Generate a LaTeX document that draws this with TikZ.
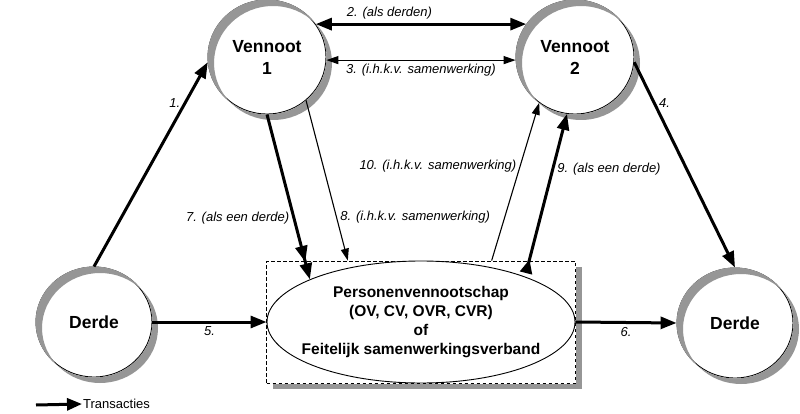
\documentclass[tikz,border=0pt]{standalone}
\usepackage{fontspec}
\setmainfont{Liberation Sans}
\usepackage{tikz}
\usetikzlibrary{arrows.meta,shapes.geometric}
\definecolor{shadowgray}{RGB}{150,150,150}

\begin{document}
\begin{tikzpicture}[x=1pt, y=-1pt,
  bigtip/.tip={Triangle[length=16pt,width=12pt]},
  smalltip/.tip={Triangle[length=12pt,width=8pt]},
  party/.style={ellipse, draw, fill=white, line width=0.9pt, inner sep=0pt, align=center,
    font=\fontsize{17.5}{22}\selectfont\bfseries},
  castshadow/.style={fill=shadowgray, even odd rule},
  tag/.style={font=\fontsize{13}{15}\selectfont\itshape},
  transfer/.style={line width=3pt, -bigtip},
  link/.style={line width=1.1pt, -smalltip}]
\useasboundingbox (0,0) rectangle (800,414);

% vennoten en derden
\node[party, minimum width=118pt, minimum height=114pt] (v1) at (267,57) {Vennoot\\1};
\node[party, minimum width=118pt, minimum height=114pt] (v2) at (575,57) {Vennoot\\2};
\node[party, minimum width=116pt, minimum height=110pt] (dl) at (94,322) {Derde};
\node[party, minimum width=116pt, minimum height=110pt] (dr) at (735,323) {Derde};

% personenvennootschap
\node[draw, fill=white, dash pattern=on 3.5pt off 2.5pt, line width=0.8pt, inner sep=0pt,
  minimum width=309pt, minimum height=122pt] (box) at (421,322) {};

% schaduwen (alleen de rand die buiten de vorm valt)
\fill[castshadow] (273,63) ellipse [x radius=59, y radius=57] (267,57) ellipse [x radius=59.5, y radius=57.5];
\fill[castshadow] (581,63) ellipse [x radius=59, y radius=57] (575,57) ellipse [x radius=59.5, y radius=57.5];
\fill[castshadow] (100,328) ellipse [x radius=58, y radius=55] (94,322) ellipse [x radius=58.5, y radius=55.5];
\fill[castshadow] (741,329) ellipse [x radius=58, y radius=55] (735,323) ellipse [x radius=58.5, y radius=55.5];
\fill[shadowgray] (576,267) rectangle (581.5,389);
\fill[shadowgray] (272.5,384) rectangle (576,389);

\node[ellipse, draw, fill=white, line width=0.9pt, inner sep=0pt,
  minimum width=308pt, minimum height=122pt] (partner) at (421,322) {};
\node[align=center, font=\fontsize{15.5}{19}\selectfont\bfseries] (ptext) at (partner.center)
  {Personenvennootschap\\(OV, CV, OVR, CVR)\\of\\Feitelijk samenwerkingsverband};
\coordinate (s9) at (526,273);

% transacties
\draw[transfer] (dl.north) -- (v1.185) node[pos=0.8, left, tag] {1.};
\draw[transfer, bigtip-bigtip] (v1.34) -- (v2.146) node[pos=0.35, above, tag] {2. (als derden)};
\draw[link, smalltip-smalltip] (v1.-3) -- (v2.183) node[midway, below, tag] {3. (i.h.k.v. samenwerking)};
\draw[transfer] (v2.-5) -- (dr.north) node[pos=0.2, right, tag] {4.};
\draw[transfer] (dl.east) -- (partner.west) node[midway, below, tag] {5.};
\draw[transfer] (partner.east) -- (dr.west) node[midway, below, tag] {6.};
\draw[line width=3pt, -{Triangle[length=16pt,width=12pt,sep=2pt]Triangle[length=16pt,width=12pt]}]
  (v1.south) -- (partner.159) node[pos=0.63, left, tag] {7. (als een derde)};
\draw[link] (v1.-48) -- (box.140) node[pos=0.73, right, tag] {8. (i.h.k.v. samenwerking)};
\draw[transfer, {Triangle[length=14pt,width=12pt,reversed]}-bigtip] (s9) -- (v2.262)
  node[pos=0.65, right, tag] {9. (als een derde)};
\draw[link] (box.41) -- (v2.232) node[pos=0.6, left, tag] {10. (i.h.k.v. samenwerking)};

% legenda
\coordinate (keya) at (36,405);
\node[right, inner sep=1pt, font=\fontsize{13}{15}\selectfont] (keytext) at (82,404) {Transacties};
\draw[line width=3pt, -{Triangle[length=15pt,width=12pt]}] (keya) -- (keytext.west);
\end{tikzpicture}
\end{document}
